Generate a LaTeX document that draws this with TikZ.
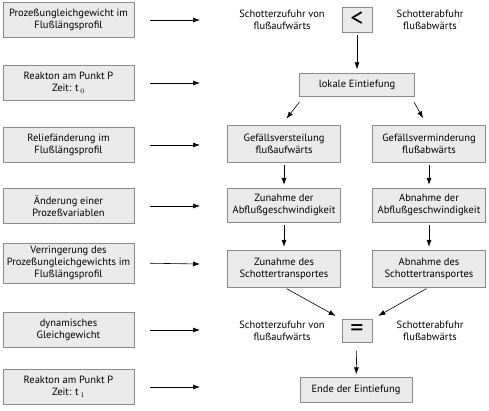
\documentclass[tikz,border=0pt]{standalone}
\usepackage{fontspec}
\setmainfont{PT Sans}
\usetikzlibrary{arrows.meta,positioning,calc}
\definecolor{boxfill}{HTML}{EAEAEA}
\definecolor{boxline}{HTML}{8A8A8A}
\tikzset{
  box/.style={draw=boxline, fill=boxfill, align=center, inner sep=1pt,
              font=\fontsize{10.5}{12}\selectfont},
  leftbox/.style={box, minimum width=131pt, minimum height=35pt},
  midbox/.style={box, minimum width=113pt, minimum height=37pt},
  symbox/.style={box, minimum width=30pt, minimum height=25pt, font=\fontsize{26}{26}\selectfont},
  txt/.style={align=center, font=\fontsize{10.5}{12}\selectfont},
  arr/.style={-{Latex[length=7pt,width=5pt]}, semithick}
}
\begin{document}
\begin{tikzpicture}[x=1pt, y=-1pt]
\useasboundingbox (0,0) rectangle (489,411);

% left column
\node[leftbox] (l1) at (68.5,20)  {Prozeßungleichgewicht im\\Flußlängsprofil};
\node[leftbox] (l2) at (68.5,83)  {Reakton am Punkt P\\Zeit: t\,$_0$};
\node[leftbox] (l3) at (68.5,145) {Reliefänderung im\\Flußlängsprofil};
\node[leftbox] (l4) at (68.5,206) {Änderung einer\\Prozeßvariablen};
\node[leftbox, minimum height=40pt] (l5) at (68.5,263) {Verringerung des\\Prozeßungleichgewichts im\\Flußlängsprofil};
\node[leftbox] (l6) at (68.5,330) {dynamisches\\Gleichgewicht};
\node[leftbox] (l7) at (68.5,387) {Reakton am Punkt P\\Zeit: t\,$_1$};

\foreach \i/\y in {1/20, 2/83, 3/145, 4/206, 5/264, 6/330, 7/387} {
  \coordinate (a\i) at (200,\y);
  \draw[arr, shorten <=16pt] (l\i.east) -- (a\i);
}

% first balance
\node[txt] (zu1) at (282,20) {Schotterzufuhr von\\flußaufwärts};
\node[symbox] (lt) at (357,19.5) {<};
\node[txt] (ab1) at (430,20) {Schotterabfuhr\\flußabwärts};

\node[box, minimum width=115pt, minimum height=23pt] (ein) at (357,85) {lokale Eintiefung};

% two branches
\node[midbox] (gv) at (284,143.5) {Gefällsversteilung\\flußaufwärts};
\node[midbox] (gm) at (429,143.5) {Gefällsverminderung\\flußabwärts};
\node[midbox, minimum height=34pt] (zg) at (284,205) {Zunahme der\\Abflußgeschwindigkeit};
\node[midbox, minimum height=34pt] (ag) at (429,205) {Abnahme der\\Abflußgeschwindigkeit};
\node[midbox] (zs) at (284,268.5) {Zunahme des\\Schottertransportes};
\node[midbox] (as) at (429,268.5) {Abnahme des\\Schottertransportes};

% second balance
\node[txt] (zu2) at (282,331) {Schotterzufuhr von\\flußaufwärts};
\node[symbox, minimum height=23pt] (eq) at (357,331) {=};
\node[txt] (ab2) at (430,331) {Schotterabfuhr\\flußabwärts};

\node[box, minimum width=112pt, minimum height=25pt] (ende) at (356,390) {Ende der Eintiefung};

% connectors
\draw[arr, shorten <=3pt, shorten >=4pt] (lt) -- (ein);
\draw[arr, shorten <=3pt, shorten >=4pt] (ein.south west) ++(2,3) coordinate (e1) -- ($(gv.north)+(0,-3)$) coordinate (g1);
\draw[arr, shorten <=3pt, shorten >=4pt] (ein.south east) ++(-2,3) coordinate (e2) -- ($(gm.north)+(-4,-3)$) coordinate (g2);
\draw[arr, shorten <=3pt, shorten >=3pt] (gv) -- (zg);
\draw[arr, shorten <=3pt, shorten >=3pt] (gm) -- (ag);
\draw[arr, shorten <=3pt, shorten >=3pt] (zg) -- (zs);
\draw[arr, shorten <=3pt, shorten >=3pt] (ag) -- (as);
\draw[arr, shorten <=3pt, shorten >=7pt] (zs.south) -- (eq.north west);
\draw[arr, shorten <=3pt, shorten >=7pt] (as.south) -- (eq.north east);
\draw[arr, shorten <=8pt, shorten >=3pt] (eq) -- (ende);
\end{tikzpicture}
\end{document}
